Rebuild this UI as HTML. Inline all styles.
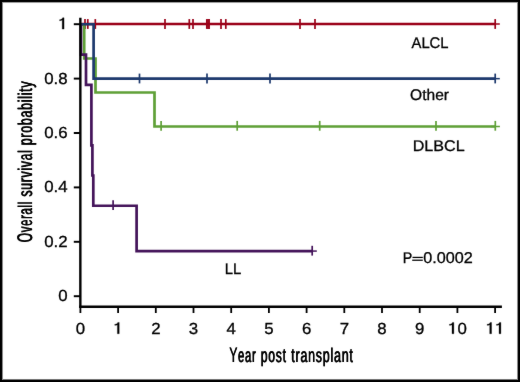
<!DOCTYPE html>
<html><head><meta charset="utf-8"><style>
html,body{margin:0;padding:0;background:#fff;width:520px;height:382px;overflow:hidden;}
svg{display:block;will-change:transform;}
text{font-family:"Liberation Sans", sans-serif;fill:#000;stroke:#000;stroke-width:0.3px;text-rendering:geometricPrecision;font-kerning:none;}
</style></head><body>
<svg width="520" height="382" viewBox="0 0 520 382">
<defs><filter id="sf" filterUnits="userSpaceOnUse" x="0" y="0" width="520" height="382" color-interpolation-filters="sRGB"><feConvolveMatrix order="3" kernelMatrix="1 4 1 4 80 4 1 4 1" edgeMode="duplicate"/></filter></defs>
<g filter="url(#sf)"><rect width="520" height="382" fill="#fff"/>
<path d="M80.40,24.00 L495.20,24.00" fill="none" stroke="#9a0018" stroke-width="2.7" stroke-linejoin="miter" stroke-linecap="butt"/><line x1="85.00" y1="19.10" x2="85.00" y2="28.90" stroke="#9a0018" stroke-width="1.7"/><line x1="87.80" y1="19.10" x2="87.80" y2="28.90" stroke="#9a0018" stroke-width="1.7"/><line x1="95.30" y1="19.10" x2="95.30" y2="28.90" stroke="#9a0018" stroke-width="1.7"/><line x1="165.00" y1="19.10" x2="165.00" y2="28.90" stroke="#9a0018" stroke-width="1.7"/><line x1="189.30" y1="19.10" x2="189.30" y2="28.90" stroke="#9a0018" stroke-width="1.7"/><line x1="193.00" y1="19.10" x2="193.00" y2="28.90" stroke="#9a0018" stroke-width="1.7"/><line x1="206.80" y1="19.10" x2="206.80" y2="28.90" stroke="#9a0018" stroke-width="1.7"/><line x1="208.00" y1="19.10" x2="208.00" y2="28.90" stroke="#9a0018" stroke-width="1.7"/><line x1="209.10" y1="19.10" x2="209.10" y2="28.90" stroke="#9a0018" stroke-width="1.7"/><line x1="221.00" y1="19.10" x2="221.00" y2="28.90" stroke="#9a0018" stroke-width="1.7"/><line x1="225.80" y1="19.10" x2="225.80" y2="28.90" stroke="#9a0018" stroke-width="1.7"/><line x1="300.00" y1="19.10" x2="300.00" y2="28.90" stroke="#9a0018" stroke-width="1.7"/><line x1="315.00" y1="19.10" x2="315.00" y2="28.90" stroke="#9a0018" stroke-width="1.7"/><line x1="495.20" y1="19.10" x2="495.20" y2="28.90" stroke="#9a0018" stroke-width="1.7"/><line x1="490.60" y1="24.00" x2="499.80" y2="24.00" stroke="#9a0018" stroke-width="1.5"/><path d="M80.40,24.50 L84.20,24.50 L84.20,58.50 L95.50,58.50 L95.50,92.50 L154.50,92.50 L154.50,126.50 L495.30,126.50" fill="none" stroke="#5fa037" stroke-width="2.7" stroke-linejoin="miter" stroke-linecap="butt"/><line x1="161.10" y1="120.90" x2="161.10" y2="130.70" stroke="#5fa037" stroke-width="1.7"/><line x1="237.20" y1="120.90" x2="237.20" y2="130.70" stroke="#5fa037" stroke-width="1.7"/><line x1="319.70" y1="120.90" x2="319.70" y2="130.70" stroke="#5fa037" stroke-width="1.7"/><line x1="436.00" y1="120.90" x2="436.00" y2="130.70" stroke="#5fa037" stroke-width="1.7"/><line x1="495.30" y1="120.90" x2="495.30" y2="130.70" stroke="#5fa037" stroke-width="1.7"/><line x1="490.70" y1="126.50" x2="499.90" y2="126.50" stroke="#5fa037" stroke-width="1.5"/><path d="M80.40,24.40 L81.00,24.40 L81.00,54.62 L86.00,54.62 L86.00,84.84 L91.40,84.84 L91.40,145.29 L92.40,145.29 L92.40,175.51 L93.30,175.51 L93.30,205.73 L136.60,205.73 L136.60,251.07 L312.20,251.07" fill="none" stroke="#44145a" stroke-width="2.7" stroke-linejoin="miter" stroke-linecap="butt"/><line x1="113.10" y1="200.30" x2="113.10" y2="210.10" stroke="#44145a" stroke-width="1.7"/><line x1="312.20" y1="245.80" x2="312.20" y2="255.60" stroke="#44145a" stroke-width="1.7"/><line x1="307.60" y1="251.07" x2="316.80" y2="251.07" stroke="#44145a" stroke-width="1.5"/><path d="M80.40,24.25 L93.60,24.25 L93.60,78.65 L495.20,78.65" fill="none" stroke="#1e3a6e" stroke-width="2.7" stroke-linejoin="miter" stroke-linecap="butt"/><line x1="139.50" y1="73.60" x2="139.50" y2="83.40" stroke="#1e3a6e" stroke-width="1.7"/><line x1="207.00" y1="73.60" x2="207.00" y2="83.40" stroke="#1e3a6e" stroke-width="1.7"/><line x1="270.00" y1="73.60" x2="270.00" y2="83.40" stroke="#1e3a6e" stroke-width="1.7"/><line x1="495.20" y1="73.60" x2="495.20" y2="83.40" stroke="#1e3a6e" stroke-width="1.7"/><line x1="490.60" y1="78.65" x2="499.80" y2="78.65" stroke="#1e3a6e" stroke-width="1.5"/><line x1="80.35" y1="17.8" x2="80.35" y2="307.8" stroke="#000" stroke-width="2.4"/><line x1="79.2" y1="306.65" x2="501.9" y2="306.65" stroke="#000" stroke-width="2.45"/><line x1="73.8" y1="296.20" x2="80" y2="296.20" stroke="#000" stroke-width="1.95"/><line x1="73.8" y1="241.80" x2="80" y2="241.80" stroke="#000" stroke-width="1.95"/><line x1="73.8" y1="187.40" x2="80" y2="187.40" stroke="#000" stroke-width="1.95"/><line x1="73.8" y1="133.00" x2="80" y2="133.00" stroke="#000" stroke-width="1.95"/><line x1="73.8" y1="78.60" x2="80" y2="78.60" stroke="#000" stroke-width="1.95"/><line x1="73.8" y1="24.20" x2="80" y2="24.20" stroke="#000" stroke-width="1.95"/><line x1="80.40" y1="307" x2="80.40" y2="313" stroke="#000" stroke-width="1.8"/><line x1="118.10" y1="307" x2="118.10" y2="313" stroke="#000" stroke-width="1.8"/><line x1="155.80" y1="307" x2="155.80" y2="313" stroke="#000" stroke-width="1.8"/><line x1="193.50" y1="307" x2="193.50" y2="313" stroke="#000" stroke-width="1.8"/><line x1="231.20" y1="307" x2="231.20" y2="313" stroke="#000" stroke-width="1.8"/><line x1="268.90" y1="307" x2="268.90" y2="313" stroke="#000" stroke-width="1.8"/><line x1="306.60" y1="307" x2="306.60" y2="313" stroke="#000" stroke-width="1.8"/><line x1="344.30" y1="307" x2="344.30" y2="313" stroke="#000" stroke-width="1.8"/><line x1="382.00" y1="307" x2="382.00" y2="313" stroke="#000" stroke-width="1.8"/><line x1="419.70" y1="307" x2="419.70" y2="313" stroke="#000" stroke-width="1.8"/><line x1="457.40" y1="307" x2="457.40" y2="313" stroke="#000" stroke-width="1.8"/><line x1="495.10" y1="307" x2="495.10" y2="313" stroke="#000" stroke-width="1.8"/><text transform="translate(58.259,301.100) scale(1.0500,1)" font-size="16.0">0</text><text transform="translate(44.248,246.700) scale(1.0500,1)" font-size="16.0">0</text><text transform="translate(53.589,246.700) scale(1.0500,1)" font-size="16.0">.</text><text transform="translate(58.259,246.700) scale(1.0500,1)" font-size="16.0">2</text><text transform="translate(44.248,192.300) scale(1.0500,1)" font-size="16.0">0</text><text transform="translate(53.589,192.300) scale(1.0500,1)" font-size="16.0">.</text><text transform="translate(58.259,192.300) scale(1.0500,1)" font-size="16.0">4</text><text transform="translate(44.248,137.900) scale(1.0500,1)" font-size="16.0">0</text><text transform="translate(53.589,137.900) scale(1.0500,1)" font-size="16.0">.</text><text transform="translate(58.259,137.900) scale(1.0500,1)" font-size="16.0">6</text><text transform="translate(44.248,83.500) scale(1.0500,1)" font-size="16.0">0</text><text transform="translate(53.589,83.500) scale(1.0500,1)" font-size="16.0">.</text><text transform="translate(58.259,83.500) scale(1.0500,1)" font-size="16.0">8</text><path d=" M62.21,29.10 L64.06,29.10 L64.06,17.76 L62.66,17.76 C62.38,18.86 61.28,19.58 59.60,19.66 L59.60,20.70 C60.78,20.70 61.62,20.46 62.21,20.06 Z" fill="#000" stroke="#000" stroke-width="0.3"/><text transform="translate(75.730,333.750) scale(1.0500,1)" font-size="16.0">0</text><path d=" M117.38,333.75 L119.23,333.75 L119.23,322.41 L117.83,322.41 C117.55,323.51 116.45,324.23 114.77,324.31 L114.77,325.35 C115.95,325.35 116.79,325.11 117.38,324.71 Z" fill="#000" stroke="#000" stroke-width="0.3"/><text transform="translate(151.130,333.750) scale(1.0500,1)" font-size="16.0">2</text><text transform="translate(188.830,333.750) scale(1.0500,1)" font-size="16.0">3</text><text transform="translate(226.530,333.750) scale(1.0500,1)" font-size="16.0">4</text><text transform="translate(264.230,333.750) scale(1.0500,1)" font-size="16.0">5</text><text transform="translate(301.930,333.750) scale(1.0500,1)" font-size="16.0">6</text><text transform="translate(339.630,333.750) scale(1.0500,1)" font-size="16.0">7</text><text transform="translate(377.330,333.750) scale(1.0500,1)" font-size="16.0">8</text><text transform="translate(415.030,333.750) scale(1.0500,1)" font-size="16.0">9</text><path d=" M452.01,333.75 L453.86,333.75 L453.86,322.41 L452.46,322.41 C452.18,323.51 451.08,324.23 449.40,324.31 L449.40,325.35 C450.58,325.35 451.42,325.11 452.01,324.71 Z" fill="#000" stroke="#000" stroke-width="0.3"/><text transform="translate(457.400,333.750) scale(1.0500,1)" font-size="16.0">0</text><path d=" M489.71,333.75 L491.56,333.75 L491.56,322.41 L490.16,322.41 C489.88,323.51 488.78,324.23 487.10,324.31 L487.10,325.35 C488.28,325.35 489.12,325.11 489.71,324.71 Z" fill="#000" stroke="#000" stroke-width="0.3"/><path d=" M499.05,333.75 L500.90,333.75 L500.90,322.41 L499.50,322.41 C499.22,323.51 498.12,324.23 496.44,324.31 L496.44,325.35 C497.62,325.35 498.46,325.11 499.05,324.71 Z" fill="#000" stroke="#000" stroke-width="0.3"/><text transform="translate(411.521,48.100) scale(0.9610,1)" font-size="15.400" font-weight="normal" >ALCL</text><text transform="translate(410.113,100.200) scale(1.0099,1)" font-size="15.400" font-weight="normal" >Other</text><text transform="translate(412.728,151.100) scale(1.0466,1)" font-size="15.400" font-weight="normal" >DLBCL</text><text transform="translate(224.832,273.650) scale(0.9639,1)" font-size="15.400" font-weight="normal" >LL</text><text transform="translate(402.779,262.950) scale(0.9272,1)" font-size="15.400" font-weight="normal" >P</text><rect x="412.5" y="256.8" width="10.3" height="1.25" fill="#000"/><rect x="412.2" y="259.6" width="10.6" height="1.25" fill="#000"/><text transform="translate(423.317,263.297) scale(1.0318,1)" font-size="15.700" font-weight="normal" >0.0002</text><text transform="translate(229.136,361.9) scale(0.5693,1)" style="stroke-width:0.2px;font-weight:normal;letter-spacing:1.2px"><tspan font-size="21.1">Y</tspan><tspan font-size="19.8">ear</tspan></text><text transform="translate(229.536,361.9) scale(0.5693,1)" style="stroke-width:0.2px;font-weight:normal;letter-spacing:1.2px"><tspan font-size="21.1">Y</tspan><tspan font-size="19.8">ear</tspan></text><text transform="translate(260.514,361.9) scale(0.6161,1)" style="stroke-width:0.2px;font-weight:normal;letter-spacing:1.2px"><tspan font-size="19.8">post</tspan></text><text transform="translate(260.914,361.9) scale(0.6161,1)" style="stroke-width:0.2px;font-weight:normal;letter-spacing:1.2px"><tspan font-size="19.8">post</tspan></text><text transform="translate(291.111,361.9) scale(0.6300,1)" style="stroke-width:0.2px;font-weight:normal;letter-spacing:1.2px"><tspan font-size="19.8">transplant</tspan></text><text transform="translate(291.511,361.9) scale(0.6300,1)" style="stroke-width:0.2px;font-weight:normal;letter-spacing:1.2px"><tspan font-size="19.8">transplant</tspan></text><text transform="translate(31.7,242.522) rotate(-90) scale(0.5721,1)" style="stroke-width:0.2px;font-weight:normal;letter-spacing:1.2px"><tspan font-size="21.1">O</tspan><tspan font-size="19.8">verall</tspan></text><text transform="translate(31.7,242.122) rotate(-90) scale(0.5721,1)" style="stroke-width:0.2px;font-weight:normal;letter-spacing:1.2px"><tspan font-size="21.1">O</tspan><tspan font-size="19.8">verall</tspan></text><text transform="translate(31.7,196.738) rotate(-90) scale(0.6138,1)" style="stroke-width:0.2px;font-weight:normal;letter-spacing:1.2px"><tspan font-size="19.8">survival</tspan></text><text transform="translate(31.7,196.338) rotate(-90) scale(0.6138,1)" style="stroke-width:0.2px;font-weight:normal;letter-spacing:1.2px"><tspan font-size="19.8">survival</tspan></text><text transform="translate(31.7,145.397) rotate(-90) scale(0.6242,1)" style="stroke-width:0.2px;font-weight:normal;letter-spacing:1.2px"><tspan font-size="19.8">probability</tspan></text><text transform="translate(31.7,144.997) rotate(-90) scale(0.6242,1)" style="stroke-width:0.2px;font-weight:normal;letter-spacing:1.2px"><tspan font-size="19.8">probability</tspan></text>
<g shape-rendering="crispEdges"><rect x="0" y="0" width="520" height="2" fill="#000"/><rect x="0" y="380" width="520" height="2" fill="#000"/><rect x="0" y="0" width="2" height="382" fill="#000"/><rect x="518" y="0" width="2" height="382" fill="#000"/><rect x="2" y="2" width="516" height="1" fill="#a0a0a0"/><rect x="2" y="379" width="516" height="1" fill="#787878"/><rect x="2" y="2" width="1" height="378" fill="#8c8c8c"/><rect x="517" y="2" width="1" height="378" fill="#8c8c8c"/></g></g>
</svg></body></html>
